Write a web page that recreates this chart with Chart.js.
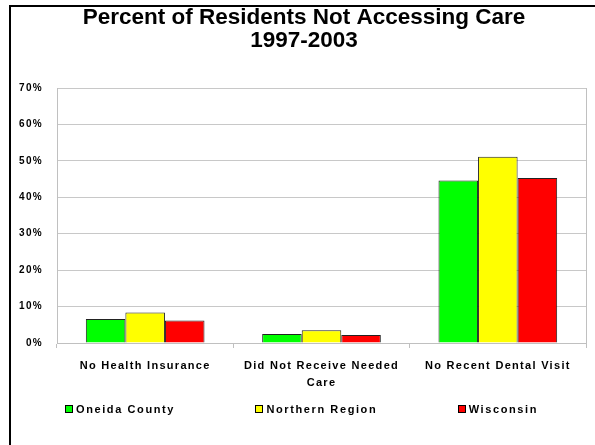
<!DOCTYPE html>
<html>
<head>
<meta charset="utf-8">
<script src="https://cdn.jsdelivr.net/npm/chart.js@4/dist/chart.umd.min.js"></script>
<style>
    body { margin: 0; background: #fff; }
    #wrap { position: relative; width: 595px; height: 445px; }
    #frame { position: absolute; left: 9px; top: 5px; right: 0; bottom: 0; border-top: 2px solid #000; border-left: 2px solid #000; pointer-events: none; }
    #legend { position: absolute; left: 65px; width: 473px; top: 403px; display: flex; justify-content: space-between; }
    .item { display: flex; align-items: center; font: bold 11px Arial, 'Liberation Sans', sans-serif; line-height: 12px; letter-spacing: 1.6px; color: #000; }
    .box { width: 6px; height: 6px; border: 1px solid #000; margin-right: 3px; }
</style>
</head>
<body>
<div id="wrap">
    <canvas id="chart" width="595" height="445"></canvas>
    <div id="frame"></div>
    <div id="legend"></div>
</div>
<script>
const categories = ["No Health Insurance", ["Did Not Receive Needed", "Care"], "No Recent Dental Visit"];
const seriesNames = ["Oneida County", "Northern Region", "Wisconsin"];
const oneidaCounty = [6.6, 2.5, 44.6];
const northernRegion = [8.4, 3.5, 51.1];
const wisconsin = [6.2, 2.2, 45.3];
const seriesColors = ["#00ff00", "#ffff00", "#ff0000"];
const yMax = 70;
const yStep = 10;

const fam = "Arial, 'Liberation Sans', sans-serif";

// letter spaced tick text, but keep the title normal
const spacing = {
    id: "spacing",
    beforeLayout(chart) { chart.ctx.letterSpacing = "1.3px"; },
    beforeDraw(chart) {
        const tb = chart.titleBlock;
        if (tb && !tb._patched) {
            const draw = tb.draw;
            tb.draw = function () {
                const c = this.ctx;
                const s = c.letterSpacing;
                c.letterSpacing = "0px";
                draw.apply(this, arguments);
                c.letterSpacing = s;
            };
            tb._patched = true;
        }
        chart.ctx.letterSpacing = "1.3px";
    }
};

const values = [oneidaCounty, northernRegion, wisconsin];

new Chart(document.getElementById("chart"), {
    type: "bar",
    data: {
        labels: categories,
        datasets: seriesNames.map((name, i) => ({
            label: name,
            data: values[i],
            backgroundColor: seriesColors[i],
            borderColor: "#222",
            borderWidth: 1,
            categoryPercentage: 0.673,
            barPercentage: 1.0
        }))
    },
    options: {
        responsive: false,
        devicePixelRatio: 1,
        animation: false,
        layout: { padding: { left: 13, right: 0, top: 0, bottom: 44 } },
        plugins: {
            legend: { display: false },
            tooltip: { enabled: false },
            title: {
                display: true,
                text: ["Percent of Residents Not Accessing Care", "1997-2003"],
                color: "#000",
                font: { family: fam, size: 22.5, weight: "bold", lineHeight: 1.0 },
                padding: { top: 7, bottom: 36 }
            }
        },
        scales: {
            x: {
                grid: { drawOnChartArea: false, drawTicks: true, tickLength: 5, color: "#c0c0c0" },
                border: { color: "#c0c0c0" },
                ticks: { color: "#000", font: { family: fam, size: 11, weight: "bold", lineHeight: 1.59 }, maxRotation: 0, autoSkip: false, padding: 9 }
            },
            y: {
                min: 0,
                max: yMax,
                afterFit(scale) { scale.width = 44; },
                grid: { color: "#c8c8c8", drawTicks: false },
                border: { color: "#c0c0c0" },
                ticks: { stepSize: yStep, color: "#000", font: { family: fam, size: 10, weight: "bold" }, padding: 14, callback: v => v + "%" }
            },
            y1: {
                position: "right",
                min: 0,
                max: yMax,
                afterFit(scale) { scale.width = 9; },
                grid: { drawOnChartArea: false, drawTicks: false },
                border: { color: "#c0c0c0" },
                ticks: { display: false }
            }
        }
    },
    plugins: [spacing]
});

const legend = document.getElementById("legend");
seriesNames.forEach((name, i) => {
    const item = document.createElement("div");
    item.className = "item";
    item.innerHTML = `<span class="box" style="background:${seriesColors[i]}"></span><span>${name}</span>`;
    legend.appendChild(item);
});
</script>
</body>
</html>
